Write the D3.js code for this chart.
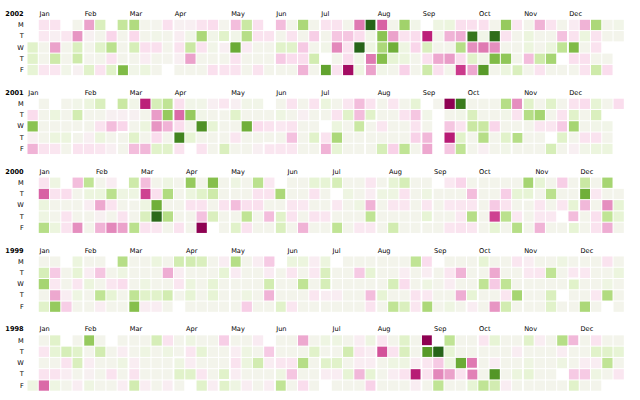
<!DOCTYPE html>
<html><head><meta charset="utf-8">
<script src="https://cdn.jsdelivr.net/npm/d3@7"></script>
<style>html,body{margin:0;padding:0;background:#fff}svg{display:block}</style>
</head><body>
<svg id="chart" width="640" height="400"></svg>
<script>
const _ = null;
const years = [2002, 2001, 2000, 1999, 1998];
const dayLabels = ["M", "T", "W", "T", "F"];
const monthNames = ["Jan","Feb","Mar","Apr","May","Jun","Jul","Aug","Sep","Oct","Nov","Dec"];

// daily % change, one row per weekday (Mon..Fri), one entry per week column (0..52)
const v2002 = [
 [_,-0.8,-0.8,_,0.2,-2.3,1.2,_,1.7,2.1,0.2,0.1,-0.9,-0.2,-0.3,-0.8,-1.0,0.1,-1.8,1.6,-0.9,_,-1.8,0.2,2.2,0.2, -0.8,-0.8,0.2,-2.9,5.4,-3.2,0.2,2.4,0.3,_,0.5,0.6,-0.9,-0.9,-0.9,0.2,2.6,-0.7,0.2,-2.0,-0.8,0.2,-0.5,-2.0,2.2,0.2,0.3],
 [_,-0.6,-0.3,-0.7,-2.5,-0.2,0.2,-1.2,0.2,-1.1,0.2,0.3,0.2,-0.4,0.3,2.2,0.3,1.0,0.3,2.0,-0.8,-0.8,0.2,-0.8,0.2,-1.4, 0.2,-1.6,-1.6,-1.0,0.3,2.8,-2.3,-0.8,-1.0,-4.1,0.2,-2.0,-2.1,4.6,0.3,4.8,-0.8,0.2,0.6,0.2,0.2,-1.7,-0.8,0.6,-0.8,0.2,0.2],
 [1.0,0.2,-2.3,0.2,1.2,0.2,1.0,1.9,0.2,1.3,-0.9,-0.9,0.2,-0.8,1.6,-0.8,0.3,-0.3,3.4,-0.5,0.2,0.2,1.0,1.0,-1.5,0.2, 0.3,-2.7,-0.8,6.3,0.5,2.2,3.3,0.5,-1.2,1.2,0.2,0.2,2.0,-2.6,-2.9,-2.6,0.2,0.2,0.6,0.2,0.6,1.8,3.0,0.2,-0.8,_,_],
 [1.0,0.2,1.5,0.2,1.5,0.1,0.2,-0.8,0.2,0.2,-0.4,0.2,0.1,-0.3,-2.3,0.2,0.2,0.2,-0.8,0.2,0.2,0.2,-1.5,-1.0,-1.0,1.4, _,0.2,-1.0,0.3,-2.9,2.9,0.8,0.6,0.2,-0.9,-2.2,-2.4,-1.0,1.0,0.3,3.0,2.7,0.2,-1.8,1.5,2.3,_,-0.9,-0.9,0.2,0.2,_],
 [0.8,-0.7,-0.7,0.3,-0.2,1.0,-0.8,1.0,3.0,0.3,0.6,0.2,_,0.2,0.2,0.2,-0.9,-0.8,-0.8,0.2,-0.8,0.2,0.2,0.2,-2.0,0.2, 3.6,-0.8,-4.6,0.5,-2.3,0.3,0.2,-1.3,0.2,1.5,-0.9,0.2,-3.7,-2.2,3.8,0.2,0.6,1.2,0.2,-0.8,0.2,0.2,0.2,-0.8,1.5,-1.0,_]
];
const v2001 = [
 [_,0.2,_,0.2,0.3,0.6,1.2,_,1.6,0.3,-4.1,1.3,1.8,-0.9,0.3,0.3,-0.3,-0.7,-0.3,0.3,0.3,_,0.2,-0.8,0.2,-0.8, 0.6,0.2,-0.7,-1.8,-0.8,0.2,-0.7,0.2,0.8,_,0.1,-7.1,4.5,0.2,0.2,0.2,2.0,-2.6,1.0,0.2,1.0,0.2,-0.8,-1.0,0.8,0.2,-1.0],
 [-1.0,0.2,0.6,0.2,1.4,0.2,0.2,-0.2,-0.3,-0.2,0.2,-2.4,2.6,-3.1,2.6,0.3,0.2,0.2,1.0,0.2,0.2,0.2,0.5,0.2,-0.3,0.2, 0.2,-0.8,1.0,-1.8,1.0,0.2,0.2,-0.8,-1.6,0.3,_,0.2,0.3,1.2,0.2,0.2,0.3,-0.8,2.0,2.3,0.2,-0.8,1.0,0.2,1.2,_,_],
 [2.8,0.2,0.2,0.2,0.2,0.2,-0.8,-1.8,-1.2,0.2,0.6,-2.5,-2.0,-1.0,0.2,4.0,0.8,0.2,0.2,3.3,-1.0,-0.8,-0.6,-0.8,0.2,0.2, _,0.6,0.2,1.6,0.2,-0.7,0.2,0.2,-0.8,0.2,_,-1.6,-0.8,1.6,1.6,-1.2,0.2,0.2,0.2,-0.7,-0.7,-1.5,2.3,0.2,0.3,0.3,_],
 [-0.3,0.2,0.6,0.6,0.2,-0.3,0.6,0.2,0.2,1.0,0.2,-1.0,0.2,4.3,0.8,0.2,0.2,0.2,-0.7,0.2,0.2,0.2,0.2,-1.7,0.2,1.0, -0.8,2.2,0.2,0.2,0.2,0.2,0.2,0.2,-1.3,-1.9,_,-4.2,1.0,0.2,2.0,0.2,1.0,2.0,0.2,0.2,_,1.0,0.2,-0.8,-0.8,0.2,_],
 [-2.0,-0.8,-0.7,0.2,-0.8,-0.8,-0.7,-0.3,0.2,-1.8,-1.9,1.0,1.0,-0.8,_,-0.8,0.2,1.2,0.2,0.2,-0.3,-0.7,-0.7,-0.7,0.2,0.2, -2.0,0.8,0.2,0.2,0.2,1.3,-1.3,1.8,0.2,-2.2,_,-1.6,1.8,0.2,-0.3,0.2,0.3,0.2,0.2,0.2,1.3,0.2,-0.3,0.3,0.6,0.6,_]
];
const v2000 = [
 [_,-0.8,0.5,_,-1.8,1.8,0.2,-0.4,_,1.5,-1.8,0.2,0.5,0.2,2.6,0.2,2.9,0.2,0.5,0.2,1.9,-0.6,_,0.2,0.2,0.8, 0.8,1.3,0.2,0.2,-0.7,0.2,0.8,1.3,0.2,0.2,_,-0.6,-1.2,0.2,0.2,0.2,0.2,0.2,2.3,0.8,0.2,-1.4,0.2,1.6,0.2,2.3,_],
 [_,-3.2,-0.8,-1.0,0.2,0.6,0.6,1.9,0.5,0.5,-3.6,-0.9,2.1,0.2,0.6,1.0,1.5,0.2,0.2,0.2,-0.8,-0.8,2.2,0.2,0.2,-0.8, 0.2,_,0.5,0.2,-0.4,0.5,0.5,-0.8,0.2,0.5,0.2,0.2,0.2,-1.8,0.2,0.2,-1.4,0.8,0.8,0.2,1.9,0.2,0.2,3.3,-0.6,0.2,0.2],
 [_,0.6,0.2,0.2,0.2,-0.4,-2.2,-0.8,0.2,0.2,0.5,3.3,0.2,0.2,-0.8,-0.8,0.2,-0.8,-1.8,-0.9,-0.9,0.2,0.2,-0.7,-0.6,0.2, 0.2,-0.6,0.2,0.5,-2.0,0.2,-0.7,-0.7,0.2,-0.7,0.2,-0.6,-0.7,-0.7,0.2,-1.5,-0.8,0.2,0.2,-0.7,0.2,-0.7,0.8,-1.9,0.2,-2.6,0.8],
 [_,0.5,0.2,-0.8,0.2,0.2,-0.2,0.2,-0.8,0.2,1.2,4.9,2.0,0.2,0.2,-1.7,1.2,0.2,0.2,1.8,0.2,-1.8,1.0,-0.8,0.2,-0.8, -0.7,0.2,0.2,0.2,1.8,0.2,0.2,0.2,0.2,0.8,0.2,0.2,-0.6,2.0,0.2,-3.6,1.9,-0.6,0.2,-0.6,-0.6,_,-1.8,0.2,-0.9,1.8,0.8],
 [_,2.0,0.6,-0.8,-2.6,0.2,-2.0,-2.7,-2.3,1.9,-0.8,-0.7,0.2,-0.8,0.2,-5.7,_,0.2,1.0,-0.8,0.2,0.2,1.2,0.2,-2.0,0.2, 0.2,1.8,0.2,-0.6,-0.6,0.2,1.4,0.2,0.2,0.2,0.2,-0.7,-0.8,-0.7,0.2,0.8,0.2,2.0,0.2,-2.0,0.2,0.2,0.8,0.2,-0.8,-2.1,0.2]
];
const v1999 = [
 [_,0.2,0.2,_,0.6,0.2,0.2,_,2.0,0.2,0.2,0.6,0.2,1.4,1.4,1.2,0.2,-0.4,2.0,0.2,-0.4,-1.5,_,0.6,0.6,-0.4, 0.6,_,0.2,0.2,0.2,0.2,0.2,0.2,1.8,-1.0,_,0.2,0.2,0.2,0.8,0.2,0.2,-0.7,-0.4,0.2,0.2,0.5,0.2,0.2,0.2,-0.8,0.2],
 [_,1.3,-1.5,0.2,0.8,-0.4,-1.6,0.2,0.5,0.2,0.2,0.2,-2.1,-0.4,0.2,0.2,0.2,0.8,-0.5,0.2,0.2,-0.5,0.2,-0.7,0.2,-0.6, 1.2,0.2,0.2,-1.5,0.8,0.2,0.2,-0.4,0.2,-0.4,0.2,-0.7,-2.0,0.2,0.2,-2.2,0.2,0.2,-0.6,-0.7,1.8,0.2,-0.6,-0.6,0.2,0.2,0.6],
 [_,2.3,-0.6,0.2,-0.7,0.6,0.2,-0.7,-1.0,0.2,0.5,0.2,0.2,-0.7,0.6,0.2,0.8,0.2,0.2,0.2,0.2,1.4,0.2,0.2,1.8,0.2, 1.3,0.2,0.2,0.2,0.2,0.2,1.3,-1.0,0.2,0.5,0.2,-0.4,0.2,0.2,1.8,-1.5,1.8,0.2,0.2,0.2,0.2,0.2,1.0,0.2,0.2,0.5,0.2],
 [_,0.2,-2.2,-0.4,0.5,0.2,1.8,0.8,0.2,1.8,1.0,1.0,1.4,0.2,0.8,0.2,0.8,0.2,0.2,0.5,0.2,-2.0,0.2,0.2,0.2,-0.7, -0.4,-0.4,0.2,0.2,-1.8,0.8,0.2,0.2,-0.8,-0.6,0.2,0.2,-2.1,0.8,0.2,0.2,-0.7,2.3,0.2,0.2,1.2,_,0.2,0.2,-0.6,2.1,0.2],
 [_,1.0,2.6,-1.4,0.2,0.2,-0.4,0.2,0.2,2.9,-0.4,-0.4,0.2,_,0.2,0.2,0.2,0.2,0.2,-1.4,0.2,0.2,1.0,-0.7,0.2,0.2, 0.2,0.2,0.2,0.2,-0.8,0.2,1.8,1.2,-0.7,2.2,0.2,0.5,0.2,-0.4,0.2,-2.5,1.4,0.2,0.2,0.2,1.0,0.2,0.2,2.2,0.2,_,0.2]
];
const v1998 = [
 [_,0.2,1.0,_,0.2,2.6,0.2,_,0.2,0.2,0.2,1.3,-0.8,0.2,0.5,0.2,0.2,-1.4,0.2,0.2,-0.5,_,0.2,0.2,-2.2,0.2, 0.5,0.5,0.2,-0.4,0.5,-0.7,0.2,1.0,0.2,-6.4,_,1.8,0.2,0.2,-0.7,0.8,0.2,0.2,1.0,-0.4,0.2,2.0,-1.9,0.2,-0.8,0.2,0.2],
 [_,-0.7,0.8,1.3,1.0,0.2,1.4,0.2,-0.4,0.2,0.5,0.2,0.5,0.2,-0.7,0.8,0.2,0.2,-0.4,0.5,0.2,-1.5,0.2,0.2,0.2,1.0, 0.2,0.2,1.4,-0.7,-0.4,-3.4,-0.8,1.2,0.2,3.8,5.0,0.8,0.2,0.2,0.2,0.2,0.2,-0.4,0.2,0.2,0.2,-0.4,0.2,0.2,1.0,1.0,0.8],
 [_,0.2,0.2,-0.8,1.2,-0.4,0.2,0.2,0.5,-0.4,0.2,0.2,0.2,0.5,-0.4,0.2,0.2,0.2,-0.8,0.6,1.4,-0.4,-0.7,-0.7,2.0,0.2, 1.0,1.0,0.2,-0.4,-0.4,0.2,0.5,0.5,-0.4,-0.7,-1.5,0.5,3.4,-2.9,0.2,-0.4,0.2,0.2,0.5,0.2,0.2,0.5,0.2,-0.4,-0.4,1.8,0.2],
 [_,-0.8,-0.8,-0.4,0.2,-0.2,0.2,-0.8,0.2,-0.8,0.2,0.2,0.2,1.0,1.0,-0.7,0.2,1.0,-0.4,0.2,0.2,0.2,0.5,-1.6,0.2,0.2, -0.4,-0.4,0.8,-1.9,0.8,0.2,-0.4,-0.8,-4.2,-0.8,-2.7,-2.3,-0.8,-2.8,0.2,3.9,0.2,0.6,0.8,0.2,0.2,_,-1.5,-1.5,0.5,0.2,-0.7],
 [0.5,-3.1,0.5,0.2,-0.4,0.5,0.2,0.2,-0.4,1.4,-0.4,0.2,-0.4,0.2,_,1.0,-0.4,1.0,0.5,-0.4,0.2,-0.4,1.8,0.2,-1.0,0.2, _,0.2,0.2,0.2,-1.3,0.2,0.2,0.2,-0.4,0.2,1.8,0.2,0.2,0.8,1.8,1.4,-0.4,0.2,0.2,0.2,0.2,0.2,1.0,0.2,0.2,_,_]
];

const grids = [v2002, v2001, v2000, v1999, v1998];

const cell = 11.27, left = 27, top0 = 19.3, yearH = cell * 7;
const fontSize = 6.6;

const svg = d3.select("#chart")
  .attr("font-family", "DejaVu Sans, sans-serif")
  .attr("font-size", fontSize);

const x = d3.scaleLinear().domain([0, 53]).range([0, 53 * cell]);
const y = d3.scaleLinear().domain([0, 5]).range([0, 5 * cell]);
const color = d3.scaleSequential(d3.interpolatePiYG).domain([-5, 5]);
const countDay = i => (i + 6) % 7;

years.forEach((yr, yi) => {
  const g = svg.append("g").attr("transform", `translate(${left},${top0 + yi * yearH})`);
  const grid = grids[yi];
  const start = new Date(Date.UTC(yr, 0, 1));

  g.append("text").attr("x", -3.3).attr("y", -3.4)
    .attr("font-weight", "bold").attr("text-anchor", "end").text(yr);

  g.append("g").attr("text-anchor", "end")
    .selectAll("text").data(dayLabels).join("text")
    .attr("x", -3.3).attr("y", (d, i) => y(i + 0.5)).attr("dy", "0.31em")
    .text(d => d);

  const cells = [];
  grid.forEach((row, r) => row.forEach((v, c) => { if (v !== null) cells.push({ r, c, v }); }));
  g.append("g").selectAll("rect").data(cells).join("rect")
    .attr("x", d => x(d.c) + 0.5).attr("y", d => y(d.r) + 0.5)
    .attr("width", cell - 1).attr("height", cell - 1)
    .attr("fill", d => color(d.v));

  const months = d3.utcMonths(start, new Date(Date.UTC(yr + 1, 0, 1)));
  const pathMonth = t => {
    const d = Math.max(0, Math.min(5, countDay(t.getUTCDay())));
    const w = d3.utcMonday.count(start, t);
    return `${d === 0 ? `M${x(w)},0`
      : d === 5 ? `M${x(w + 1)},0`
      : `M${x(w + 1)},0V${y(d)}H${x(w)}`}V${y(5)}`;
  };
  g.append("g").selectAll("path").data(months.slice(1)).join("path")
    .attr("fill", "none").attr("stroke", "#fff").attr("stroke-width", 1.8)
    .attr("d", pathMonth);

  g.append("g").selectAll("text").data(months).join("text")
    .attr("x", d => x(d3.utcMonday.count(start, d3.utcMonday.ceil(d))) + 1.3)
    .attr("y", -3.4)
    .text(d => monthNames[d.getUTCMonth()]);
});
</script>
</body></html>
